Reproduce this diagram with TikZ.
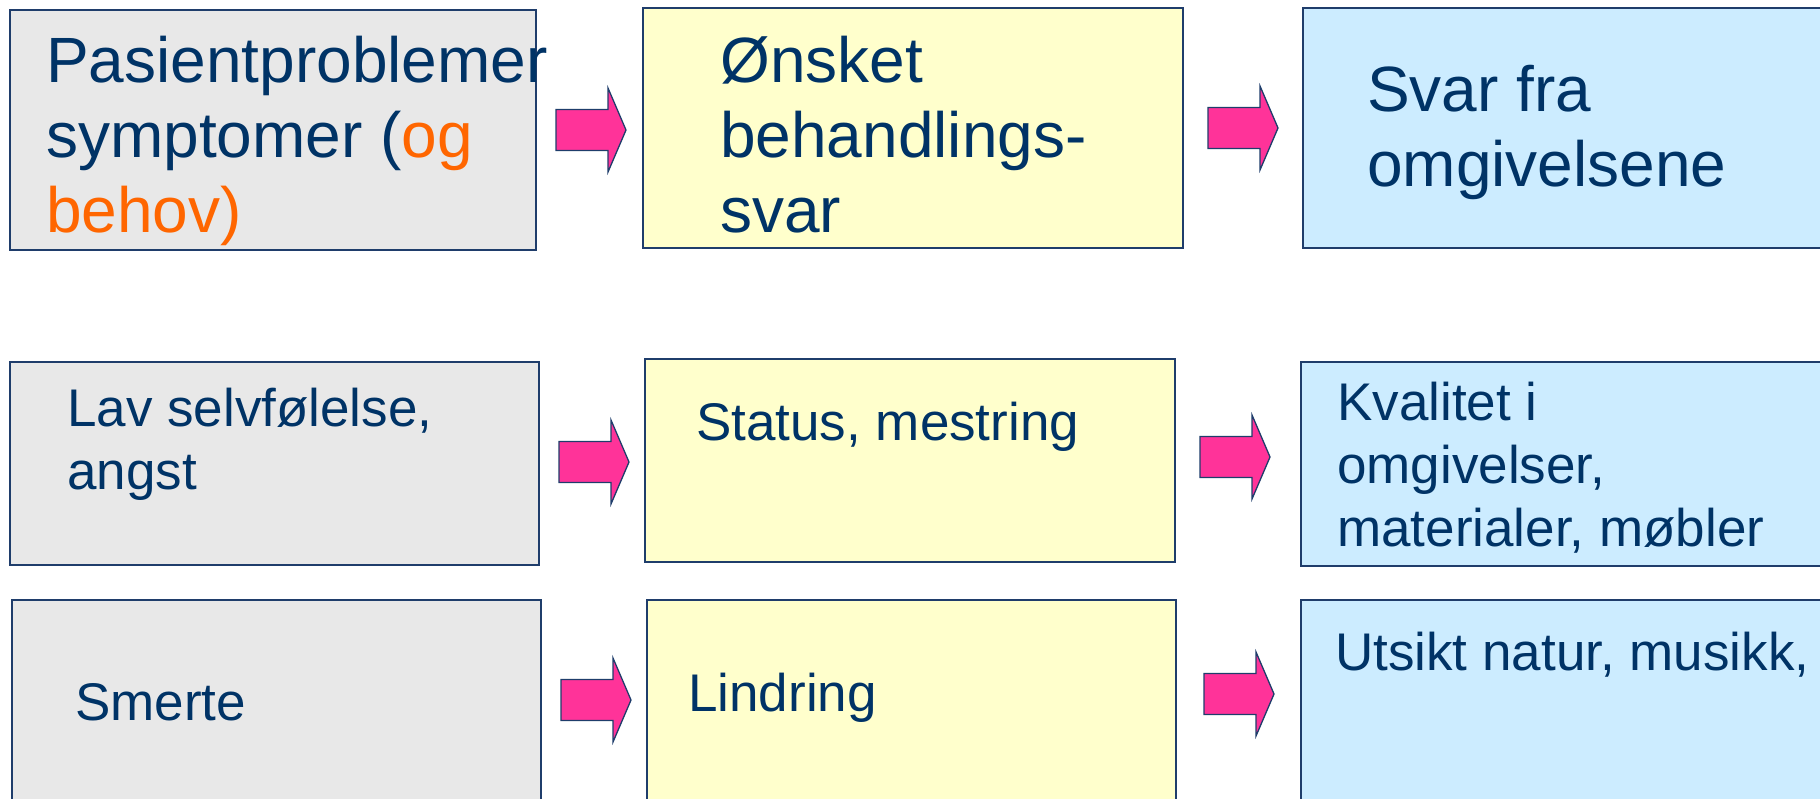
\documentclass[tikz,border=0pt]{standalone}
\usepackage{fontspec}
\setmainfont{Liberation Sans}
\definecolor{navy}{HTML}{003366}
\definecolor{edge}{HTML}{1F3D6B}
\definecolor{orng}{HTML}{FF6600}
\definecolor{grayfill}{HTML}{E8E8E8}
\definecolor{yelfill}{HTML}{FFFFCC}
\definecolor{bluefill}{HTML}{CCECFF}
\definecolor{pinkfill}{HTML}{FF3399}
\tikzset{
  boxbase/.style={draw=edge, line width=2.2pt},
  graybox/.style={boxbase, fill=grayfill},
  yelbox/.style={boxbase, fill=yelfill},
  bluebox/.style={boxbase, fill=bluefill},
  bigtxt/.style={anchor=base west, inner sep=0pt, align=left, text=navy,
    font=\fontsize{64}{75}\selectfont},
  smalltxt/.style={anchor=base west, inner sep=0pt, align=left, text=navy,
    font=\fontsize{53}{63}\selectfont},
  parrow/.style={draw=edge, line width=1.3pt, fill=pinkfill, line join=miter}
}
\newcommand{\pinkarrow}[3]{%
  \coordinate (#1) at (#2,#3);
  \draw[parrow] (#1) ++(0,-20.5) -- ++(52,0) -- ++(0,-21.5) -- ++(18,42)
    -- ++(-18,42) -- ++(0,-21.5) -- ++(-52,0) -- cycle;}
\begin{document}
\begin{tikzpicture}[x=1pt,y=-1pt]
\useasboundingbox (0,0) rectangle (1820,798);
% row 1
\draw[graybox] (10,10) rectangle (536,250);
\draw[yelbox] (643,8) rectangle (1183,248);
\draw[bluebox] (1303,8) rectangle (1840,248);
% multi-line nodes: base anchor = last line's baseline
\node[bigtxt] (t1) at (46,232) {Pasientproblemer\\symptomer (\textcolor{orng}{og}\\\textcolor{orng}{behov)}};
\node[bigtxt] (t2) at (720,232) {Ønsket\\behandlings-\\svar};
\node[bigtxt] (t3) at (1367,186) {Svar fra\\omgivelsene};
\pinkarrow{a1}{556}{130}
\pinkarrow{a2}{1208}{128}
% row 2
\draw[graybox] (10,362) rectangle (539,565);
\draw[yelbox] (645,359) rectangle (1175,562);
\draw[bluebox] (1301,362) rectangle (1840,566);
\node[smalltxt] (t4) at (67,489) {Lav selvfølelse,\\angst};
\node[smalltxt] (t5) at (696,440) {Status, mestring};
\node[smalltxt] (t6) at (1337,546) {Kvalitet i\\omgivelser,\\materialer, møbler};
\pinkarrow{a3}{559}{462}
\pinkarrow{a4}{1200}{457}
% row 3
\draw[graybox] (12,600) rectangle (541,830);
\draw[yelbox] (647,600) rectangle (1176,830);
\draw[bluebox] (1301,600) rectangle (1840,830);
\node[smalltxt] (t7) at (75,720) {Smerte};
\node[smalltxt] (t8) at (688,711) {Lindring};
\node[smalltxt] (t9) at (1335,670) {Utsikt natur, musikk,};
\pinkarrow{a5}{561}{700}
\pinkarrow{a6}{1204}{694}
\end{tikzpicture}
\end{document}
